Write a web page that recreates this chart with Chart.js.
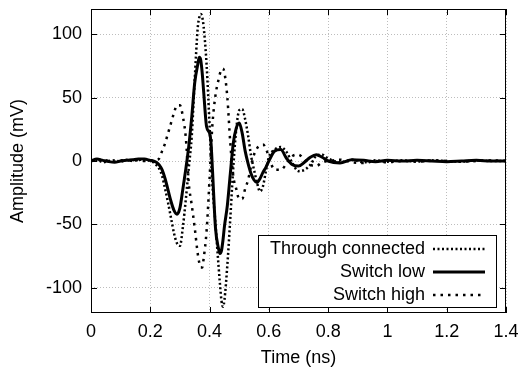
<!DOCTYPE html>
<html>
<head>
<meta charset="utf-8">
<script src="https://cdn.jsdelivr.net/npm/chart.js@4.4.1/dist/chart.umd.min.js"></script>
<style>
  html, body { margin: 0; padding: 0; background: #fff; }
  #wrap { width: 522px; height: 370px; }
</style>
</head>
<body>
<div id="wrap"><canvas id="pulse-chart" width="522" height="370"></canvas></div>
<script>
// time axis (ns)
const times = [0, 0.02, 0.04, 0.06, 0.08, 0.10, 0.12, 0.14, 0.16, 0.18, 0.20, 0.21, 0.22, 0.23, 0.24, 0.25,
    0.26, 0.27, 0.28, 0.29, 0.30, 0.31, 0.32, 0.33, 0.34, 0.35, 0.36, 0.365, 0.37, 0.375, 0.38, 0.39, 0.40,
    0.405, 0.41, 0.42, 0.43, 0.435, 0.44, 0.445, 0.45, 0.46, 0.47, 0.48, 0.49, 0.50, 0.51, 0.52, 0.53, 0.54,
    0.55, 0.56, 0.57, 0.58, 0.59, 0.60, 0.62, 0.64, 0.66, 0.68, 0.70, 0.72, 0.74, 0.76, 0.78, 0.80, 0.84,
    0.88, 0.92, 0.96, 1.0, 1.05, 1.1, 1.15, 1.2, 1.25, 1.3, 1.35, 1.4];

// amplitudes (mV)
const throughConnected = [0, 1, -1, 0, 0.5, -0.5, 1, 0, 1, 1, 0, -1, -3, -6, -12, -22,
    -33, -45, -57, -65, -67, -52, -30, -5, 20, 65, 105, 113, 116, 114, 106, 76, 28,
    2, -20, -50, -82, -97, -110, -115, -110, -82, -45, -5, 25, 40, 41, 33, 20, 4,
    -7, -17, -24, -20, -8, 3, 9, 11, 7, -2, -8, -7, -3, 4, 5, 2, -1,
    1, -1, 0.5, -0.5, 0.5, -0.5, 0.5, 0, -0.5, 0.5, 0, 0];

const switchLow = [0, 1.5, 0.5, -0.5, -1, 0, 0.5, 1, 1.5, 1.5, 0.5, 0, -1, -3, -7, -14,
    -23, -32, -39, -42, -37, -22, -6, 12, 35, 62, 76, 82, 80, 70, 55, 27, 22,
    14, -8, -53, -69, -73, -71, -63, -52, -35, -10, 14, 26, 30, 22, 8, -2, -10,
    -15, -17, -14, -9, -5, 0, 8, 9, 2, -3, -4, -1, 3, 5, 3, 0, -1.5,
    1, 0.5, -0.5, 0.5, 0, 0.5, 0, -0.5, 0, 0.5, 0, 0];

const switchHigh = [0, 0.5, 1, 0, -0.5, 0.5, 0, 1, 0.5, 0, 0, 0.5, 1, 2, 8, 14,
    22, 30, 38, 44, 44, 35, 18, -18, -35, -53, -73, -80, -84, -84, -77, -55, -14,
    10, 30, 52, 64, 69, 72, 73, 70, 50, 14, -12, -22, -30, -30, -22, -15, -4,
    5, 10, 12, 13, 10, 3, -7, -7, -2, 4, 5, 1, -3, -4, -1, 0, 1,
    -1, -1.5, 0, -1, 0, -0.5, 0.5, 0, -0.5, 0, 0.5, 0];

const xTicks = [0, 0.2, 0.4, 0.6, 0.8, 1, 1.2, 1.4];
const yTicks = [-100, -50, 0, 50, 100];

const FONT = "'Liberation Sans', Arial, Helvetica, sans-serif";

function toPoints(values) {
    return times.map((t, i) => ({ x: t, y: values[i] }));
}

// box, inward tick marks and the right-aligned legend
const frame = {
    id: 'frame',
    afterDraw(chart) {
        const { ctx, chartArea: a, scales } = chart;
        ctx.save();
        ctx.strokeStyle = '#000';
        ctx.lineWidth = 1;
        ctx.setLineDash([]);
        ctx.strokeRect(a.left + 0.5, a.top + 0.5, a.right - a.left - 1, a.bottom - a.top - 1);
        ctx.beginPath();
        xTicks.forEach(v => {
            const x = Math.round(scales.x.getPixelForValue(v)) + 0.5;
            ctx.moveTo(x, a.bottom); ctx.lineTo(x, a.bottom - 6);
            ctx.moveTo(x, a.top); ctx.lineTo(x, a.top + 6);
        });
        yTicks.forEach(v => {
            const y = Math.round(scales.y.getPixelForValue(v)) + 0.5;
            ctx.moveTo(a.left, y); ctx.lineTo(a.left + 6, y);
            ctx.moveTo(a.right, y); ctx.lineTo(a.right - 6, y);
        });
        ctx.stroke();

        // legend
        const lx = 258, ly = 235, lw = 238, lh = 72;
        ctx.fillStyle = '#fff';
        ctx.fillRect(lx, ly, lw, lh);
        ctx.strokeRect(lx + 0.5, ly + 0.5, lw, lh);
        ctx.font = '18px ' + FONT;
        ctx.textAlign = 'right';
        ctx.textBaseline = 'middle';
        chart.data.datasets.forEach((ds, i) => {
            const y = ly + 14 + i * 23;
            ctx.fillStyle = '#000';
            ctx.fillText(ds.label, 425, y);
            ctx.beginPath();
            ctx.lineWidth = ds.borderWidth;
            ctx.setLineDash(ds.borderDash || []);
            ctx.strokeStyle = ds.borderColor;
            ctx.moveTo(433, y);
            ctx.lineTo(485, y);
            ctx.stroke();
        });
        ctx.restore();
    }
};

new Chart(document.getElementById('pulse-chart'), {
    type: 'line',
    data: {
        datasets: [
            {
                label: 'Through connected',
                data: toPoints(throughConnected),
                borderColor: '#000',
                borderWidth: 2.5,
                borderDash: [2, 2.5],
                cubicInterpolationMode: 'monotone',
                pointRadius: 0
            },
            {
                label: 'Switch low',
                data: toPoints(switchLow),
                borderColor: '#000',
                borderWidth: 3,
                cubicInterpolationMode: 'monotone',
                pointRadius: 0
            },
            {
                label: 'Switch high',
                data: toPoints(switchHigh),
                borderColor: '#000',
                borderWidth: 2.5,
                borderDash: [2.5, 5],
                cubicInterpolationMode: 'monotone',
                pointRadius: 0
            }
        ]
    },
    options: {
        responsive: false,
        animation: false,
        layout: { padding: { top: 9, right: 16, left: 0, bottom: 0 } },
        plugins: {
            legend: { display: false },
            tooltip: { enabled: false }
        },
        scales: {
            x: {
                type: 'linear',
                min: 0,
                max: 1.4,
                afterBuildTicks: s => { s.ticks = xTicks.map(v => ({ value: v })); },
                afterFit: s => { s.height = 57; s.paddingLeft = 0; s.paddingRight = 0; },
                ticks: {
                    color: '#000',
                    padding: 8,
                    maxRotation: 0,
                    font: { family: FONT, size: 18 },
                    callback: v => String(v)
                },
                grid: { color: '#bdbdbd', drawTicks: false },
                border: { display: false, dash: [1, 2] },
                title: {
                    display: true,
                    text: 'Time (ns)',
                    color: '#000',
                    font: { family: FONT, size: 18 },
                    padding: { top: 2, bottom: 1 }
                }
            },
            y: {
                min: -120,
                max: 120,
                afterBuildTicks: s => { s.ticks = yTicks.map(v => ({ value: v })); },
                afterFit: s => { s.width = 91; s.paddingTop = 0; s.paddingBottom = 0; },
                ticks: {
                    color: '#000',
                    padding: 9,
                    font: { family: FONT, size: 18 }
                },
                grid: { color: '#bdbdbd', drawTicks: false },
                border: { display: false, dash: [1, 2] },
                title: {
                    display: true,
                    text: 'Amplitude (mV)',
                    color: '#000',
                    font: { family: FONT, size: 18 },
                    padding: { top: 7, bottom: 7 }
                }
            }
        }
    },
    plugins: [frame]
});
</script>
</body>
</html>
